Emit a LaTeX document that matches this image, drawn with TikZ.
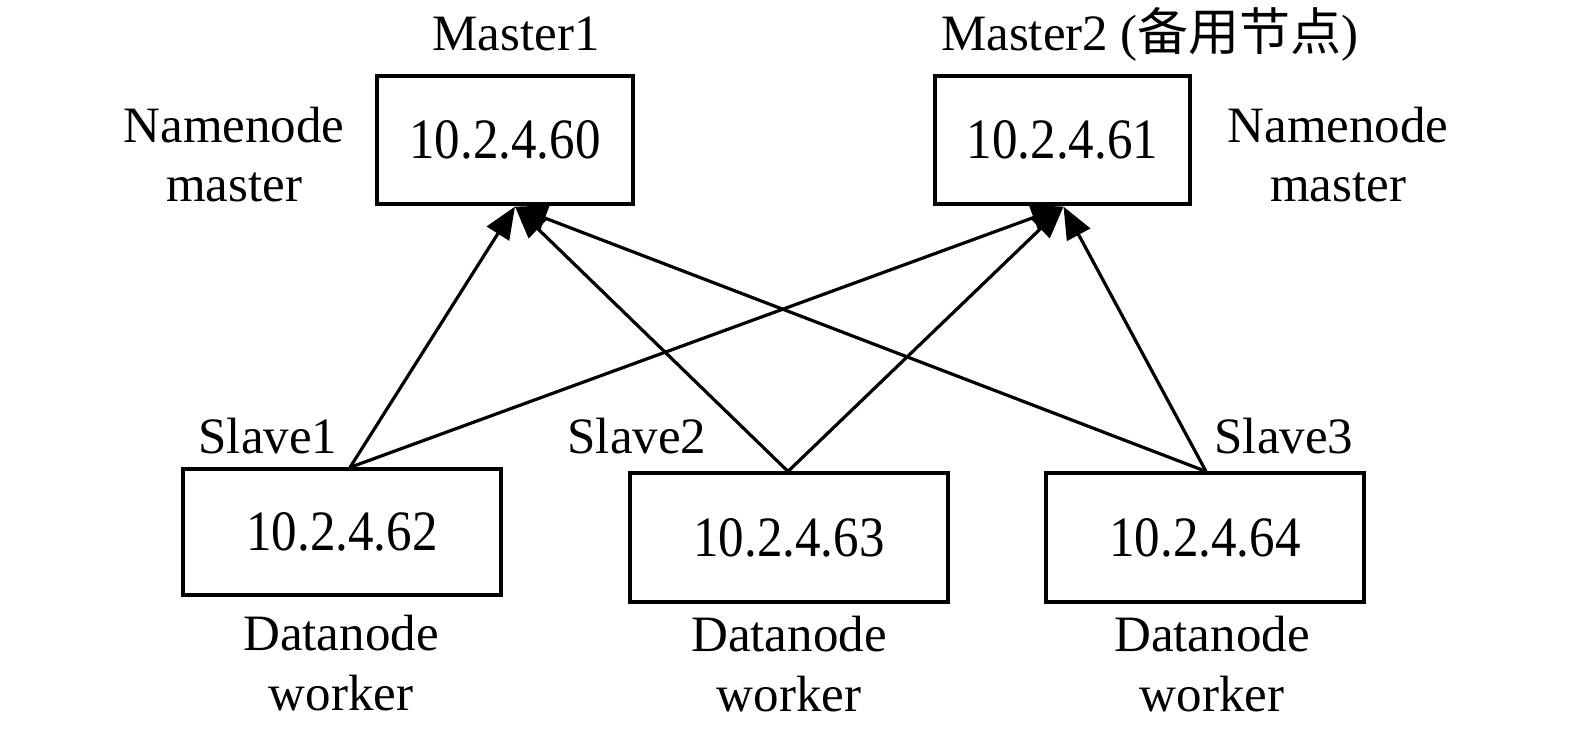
\documentclass[tikz,border=0pt]{standalone}
\usepackage{fontspec}
\setmainfont{Liberation Serif}
\newfontfamily\cjk{Noto Sans CJK SC}
\usetikzlibrary{arrows.meta}
\newcommand{\iptext}[1]{\scalebox{1}[1.12]{#1}}
\begin{document}
\begin{tikzpicture}[x=1pt,y=-1pt,
  every node/.style={font=\fontsize{51}{60}\selectfont, inner sep=0pt},
  ipbox/.style={draw, line width=3.2pt, rectangle},
  lbl/.style={anchor=base},
  conn/.style={line width=3.2pt, -{Triangle[length=32pt,width=26pt]}}
]
\useasboundingbox (0,0) rectangle (1575,734);
% boxes
\node[ipbox, minimum width=256pt, minimum height=128pt] (m1) at (505,140) {\iptext{10.2.4.60}};
\node[ipbox, minimum width=255pt, minimum height=128pt] (m2) at (1062.5,140) {\iptext{10.2.4.61}};
\node[ipbox, minimum width=318pt, minimum height=126pt] (s1) at (342,532) {\iptext{10.2.4.62}};
\node[ipbox, minimum width=318pt, minimum height=129pt] (s2) at (789,537.5) {\iptext{10.2.4.63}};
\node[ipbox, minimum width=318pt, minimum height=129pt] (s3) at (1205,537.5) {\iptext{10.2.4.64}};
% labels
\node[lbl] (lm1) at (516,50) {Master1};
\node[lbl] (lm2) at (1150,50) {Master2 ({\cjk 备用节点})};
\node[lbl] (ln1a) at (234,142) {Namenode};
\node[lbl] (ln1b) at (234,201) {master};
\node[lbl] (ln2a) at (1338,142) {Namenode};
\node[lbl] (ln2b) at (1338,201) {master};
\node[lbl] (ls1) at (268,453) {Slave1};
\node[lbl] (ls2) at (637,453) {Slave2};
\node[lbl] (ls3) at (1284,453) {Slave3};
\node[lbl] (ld1a) at (341,650) {Datanode};
\node[lbl] (ld1b) at (341,710) {worker};
\node[lbl] (ld2a) at (789,651) {Datanode};
\node[lbl] (ld2b) at (789,711) {worker};
\node[lbl] (ld3a) at (1212,651) {Datanode};
\node[lbl] (ld3b) at (1212,711) {worker};
% connector end points
\coordinate (m1b) at ([xshift=10pt,yshift=-1pt]m1.south);
\coordinate (m2b) at ([xshift=1pt,yshift=-1pt]m2.south);
\coordinate (s1t) at ([xshift=8pt]s1.north);
\coordinate (s2t) at ([xshift=-1pt]s2.north);
\coordinate (s3t) at ([xshift=1pt]s3.north);
% connectors
\draw[conn] (s1t) -- (m1b);
\draw[conn] (s1t) -- (m2b);
\draw[conn] (s2t) -- (m1b);
\draw[conn] (s2t) -- (m2b);
\draw[conn] (s3t) -- (m1b);
\draw[conn] (s3t) -- (m2b);
\end{tikzpicture}
\end{document}
